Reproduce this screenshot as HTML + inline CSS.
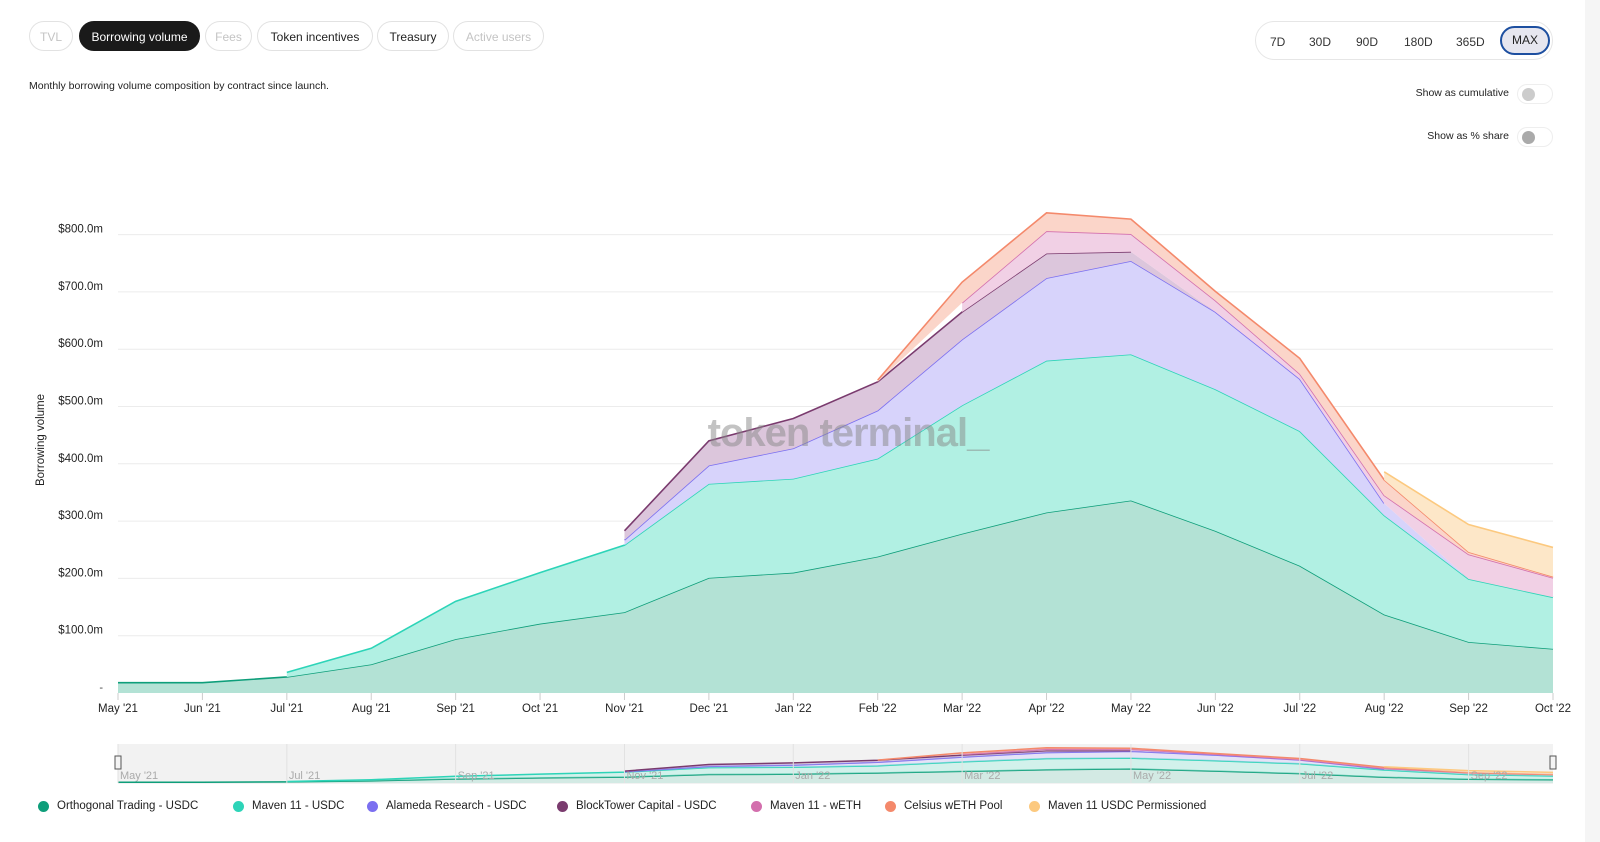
<!DOCTYPE html>
<html><head><meta charset="utf-8"><style>
body{margin:0;width:1600px;height:842px;background:#fff;font-family:"Liberation Sans",sans-serif;overflow:hidden;position:relative}
.pill{position:absolute;top:21px;height:30px;border:1px solid #e2e2e2;border-radius:16px;font-size:12px;line-height:30px;text-align:center;color:#222;box-sizing:border-box;background:#fff}
.dim{color:#c4c4c4}
.sel{background:#1a1a1a;color:#fff;border-color:#1a1a1a}
.seg{position:absolute;top:35px;font-size:12px;color:#333}
.tog{position:absolute;right:47px;width:36px;height:20px;border:1px solid #eee;border-radius:10px;box-sizing:border-box}
.tog i{position:absolute;left:4px;top:3px;width:13px;height:13px;border-radius:50%;background:#ccc}
.lg{position:absolute;top:800px;font-size:11.5px;color:#222;display:flex;align-items:center}
.lg b{width:11px;height:11px;border-radius:50%;display:inline-block;margin-right:8px}
</style></head><body>
<div style="position:absolute;right:0;top:0;width:15px;height:842px;background:#f5f5f5"></div>
<div class="pill dim" style="left:29px;width:44px">TVL</div>
<div class="pill sel" style="left:79px;width:121px">Borrowing volume</div>
<div class="pill dim" style="left:205px;width:47px">Fees</div>
<div class="pill" style="left:257px;width:116px">Token incentives</div>
<div class="pill" style="left:377px;width:72px">Treasury</div>
<div class="pill dim" style="left:453px;width:91px">Active users</div>
<div style="position:absolute;left:29px;top:80px;font-size:10.5px;color:#222">Monthly borrowing volume composition by contract since launch.</div>
<div style="position:absolute;left:1255px;top:21px;width:298px;height:39px;border:1px solid #e6e6e6;border-radius:20px;box-sizing:border-box"></div>
<div class="seg" style="left:1270px">7D</div>
<div class="seg" style="left:1309px">30D</div>
<div class="seg" style="left:1356px">90D</div>
<div class="seg" style="left:1404px">180D</div>
<div class="seg" style="left:1456px">365D</div>
<div style="position:absolute;left:1500px;top:26px;width:50px;height:29px;border:2px solid #1d4fa0;border-radius:15px;background:#e6e6ef;box-sizing:border-box;font-size:12px;line-height:25px;text-align:center;color:#222">MAX</div>
<div style="position:absolute;right:91px;top:87px;font-size:10.5px;color:#222">Show as cumulative</div>
<div class="tog" style="top:84px"><i></i></div>
<div style="position:absolute;right:91px;top:130px;font-size:10.5px;color:#222">Show as % share</div>
<div class="tog" style="top:127px"><i style="background:#aaa"></i></div>
<svg id="c" width="1600" height="842" style="position:absolute;left:0;top:0"></svg>
<div class="lg" style="left:38px"><b style="background:#0e9e7a"></b>Orthogonal Trading - USDC</div>
<div class="lg" style="left:233px"><b style="background:#2dd4b8"></b>Maven 11 - USDC</div>
<div class="lg" style="left:367px"><b style="background:#7b6ff0"></b>Alameda Research - USDC</div>
<div class="lg" style="left:557px"><b style="background:#7a3b6e"></b>BlockTower Capital - USDC</div>
<div class="lg" style="left:751px"><b style="background:#d36fad"></b>Maven 11 - wETH</div>
<div class="lg" style="left:885px"><b style="background:#f4896b"></b>Celsius wETH Pool</div>
<div class="lg" style="left:1029px"><b style="background:#fcc97f"></b>Maven 11 USDC Permissioned</div>
<script>
const months=["May '21","Jun '21","Jul '21","Aug '21","Sep '21","Oct '21","Nov '21","Dec '21","Jan '22","Feb '22","Mar '22","Apr '22","May '22","Jun '22","Jul '22","Aug '22","Sep '22","Oct '22"];
const yTicks=[100,200,300,400,500,600,700,800];
const orthogonal=[18,18,28,50,94,121,141,201,210,238,278,315,336,283,222,137,89,77];
const maven11=[null,null,8,28,66,89,117,164,164,171,224,265,255,247,235,173,110,90];
const alameda=[null,null,null,null,null,null,9,32,53,84,115,144,163,135,91,21,null,null];
const blocktower=[null,null,null,null,null,null,16,43,52,50,48,43,16,null,null,null,null,null];
const maven11weth=[null,null,null,null,null,null,null,null,null,null,16,39,31,20,9,14,43,34];
const celsius=[null,null,null,null,null,null,null,null,null,3,36,32,26,16,27,27,4,2];
const permissioned=[null,null,null,null,null,null,null,null,null,null,null,null,null,null,null,14,48,51];
const series=[
 {name:'orthogonal',d:orthogonal,line:'#0e9e7a',fill:'#b3e2d5'},
 {name:'maven11-usdc',d:maven11,line:'#2dd4b8',fill:'#b1f0e3'},
 {name:'alameda',d:alameda,line:'#7b6ff0',fill:'#d7d3fb'},
 {name:'blocktower',d:blocktower,line:'#7a3b6e',fill:'#dcc6dc'},
 {name:'maven11-weth',d:maven11weth,line:'#d36fad',fill:'#f1d0e5'},
 {name:'celsius',d:celsius,line:'#f4896b',fill:'#fbd5c9'},
 {name:'permissioned',d:permissioned,line:'#fcc97f',fill:'#fde7c8'}];
const NS='http://www.w3.org/2000/svg',svg=document.getElementById('c');
const X0=118,X1=1553,Y0=693,PX=57.3/100;
const x=i=>X0+i*(X1-X0)/(months.length-1);
const y=v=>Y0-v*PX;
function mk(t,a,p){const e=document.createElementNS(NS,t);for(const k in a)e.setAttribute(k,a[k]);(p||svg).appendChild(e);return e;}
yTicks.forEach(t=>{
 const g=mk('line',{x1:X0,x2:X1,y1:y(t),y2:y(t),stroke:'#ececec'});
 
 
 const l=mk('text',{x:103,y:y(t)-2,'text-anchor':'end','font-size':11.5,fill:'#222'});
 l.textContent='$'+t.toFixed(1)+'m';
 
 
});
const z=mk('text',{x:103,y:Y0-2,'text-anchor':'end','font-size':11,fill:'#444'});z.textContent='-';
const yt=mk('text',{x:44,y:440,transform:'rotate(-90 44 440)','text-anchor':'middle','font-size':11.5,fill:'#222'});
yt.textContent='Borrowing volume';


months.forEach((m,i)=>{
 mk('line',{x1:x(i),x2:x(i),y1:Y0,y2:Y0+7,stroke:'#ccc'});
 const t=mk('text',{x:x(i),y:712,'text-anchor':'middle','font-size':11.5,fill:'#222'});
 t.textContent=m;
 
 
});
const base=months.map(()=>0);
const stacks=series.map(s=>{const lo=base.slice();s.d.forEach((v,i)=>{if(v!=null)base[i]+=v;});return {lo,hi:base.slice()};});
function drawStack(sy,navMode){
 series.forEach((s,k)=>{
  const idx=s.d.map((v,i)=>v!=null?i:-1).filter(i=>i>=0);
  if(!idx.length)return;
  const {lo,hi}=stacks[k];
  const first=idx[0],last=idx[idx.length-1];
  const aidx=[];
  for(let i=first;i<=Math.min(months.length-1,last+1);i++)aidx.push(i);
  const top=aidx.map(i=>[x(i),sy(s.d[i]!=null?hi[i]:lo[i])]);
  const bot=aidx.slice().reverse().map(i=>[x(i),sy(lo[i])]);
  const a=mk('path',{d:'M'+top.concat(bot).map(p=>p.join(',')).join('L')+'Z',fill:s.fill,'fill-opacity':navMode?0.5:1});
  
  
  const lt=idx.map(i=>[x(i),sy(hi[i])]);
  const l=mk('path',{d:'M'+lt.map(p=>p.join(',')).join('L'),fill:'none',stroke:s.line,'stroke-width':navMode?1.5:1.6});
  
  
 });
}
drawStack(y,false);
const w=mk('text',{x:848,y:446,'text-anchor':'middle','font-size':40,'font-weight':'bold',fill:'#888','fill-opacity':0.5,'letter-spacing':'-1'});
w.textContent='token terminal_';


const nb=mk('rect',{x:X0,y:744,width:X1-X0,height:40,fill:'#f2f2f2'});


const ny=v=>783-v*0.042;
drawStack(ny,true);
months.forEach((m,i)=>{if(i%2)return;
 mk('line',{x1:x(i),x2:x(i),y1:744,y2:783,stroke:'#e2e2e2'});
 const t=mk('text',{x:x(i)+2,y:779,'font-size':11,fill:'#aaa'});t.textContent=m;});
[X0-3,X1-3].forEach(hx=>{const h=mk('rect',{x:hx,y:756,width:6,height:13,fill:'#f4f4f4',stroke:'#555'});
 
 });
</script>
</body></html>
